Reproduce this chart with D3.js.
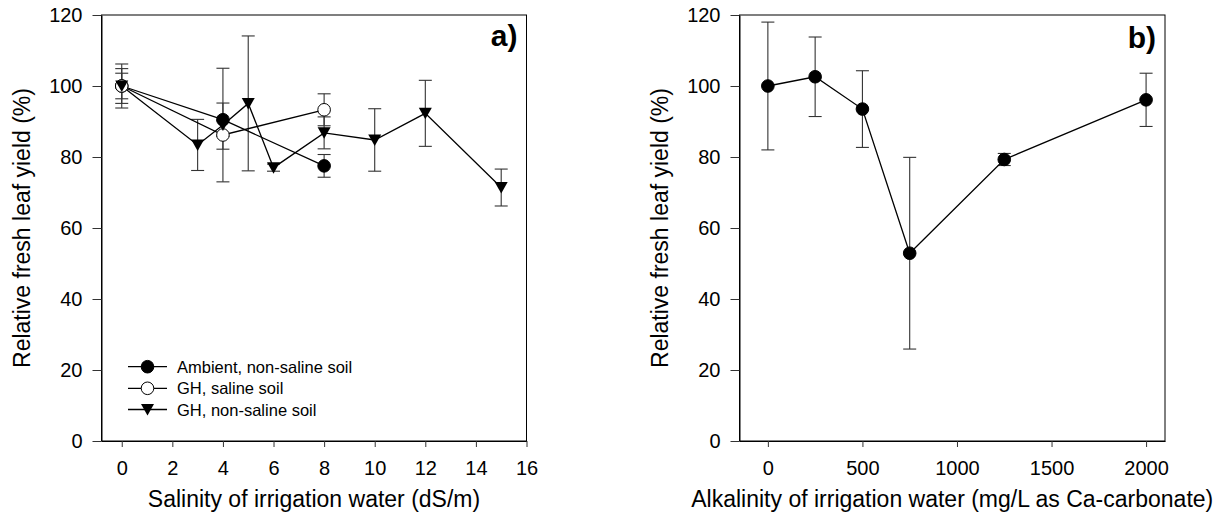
<!DOCTYPE html>
<html>
<head>
<meta charset="utf-8">
<script src="https://cdn.jsdelivr.net/npm/d3@7"></script>
<style>
  html, body { margin: 0; padding: 0; background: #fff; }
  svg { display: block; font-family: "Liberation Sans", Arial, sans-serif; }
</style>
</head>
<body>
<svg id="chart" width="1225" height="521"></svg>
<script>
// ---------- Data ----------
const salinityTicks = [0, 2, 4, 6, 8, 10, 12, 14, 16];
const alkalinityTicks = [0, 500, 1000, 1500, 2000];
const yTicks = [0, 20, 40, 60, 80, 100, 120];

const ambientX = [0, 4, 8];
const ambientY = [100, 90.5, 77.5];
const ambientErr = [3.6, 4.7, 3.2];

const ghSalineX = [0, 4, 8];
const ghSalineY = [100, 86.2, 93.3];
const ghSalineErr = [6.2, 4, 4.5];

const ghNonSalineX = [0, 3, 4, 5, 6, 8, 10, 12, 15];
const ghNonSalineY = [100, 83.4, 89, 95.1, 77, 86.8, 84.8, 92.3, 71.4];
const ghNonSalineErr = [4.9, 7.2, 16, 19, 1, 4.5, 8.8, 9.3, 5.2];

const alkX = [0, 250, 500, 750, 1250, 2000];
const alkY = [100, 102.6, 93.5, 52.9, 79.3, 96.1];
const alkErr = [18, 11.2, 10.8, 27, 1.7, 7.5];

const seriesLabels = ["Ambient, non-saline soil", "GH, saline soil", "GH, non-saline soil"];

// ---------- Layout ----------
const svg = d3.select("#chart");
const plotTop = 15, plotBottom = 441;
const tickFont = 20, titleFont = 23, legendFont = 16.5;

const ya = d3.scaleLinear().domain([0, 120]).range([plotBottom, plotTop]);
const xa = d3.scaleLinear().domain([-0.8, 16]).range([101.5, 526.5]);
const xb = d3.scaleLinear().domain([-150, 2100]).range([739.5, 1165]);

const triPath = "M-6.5,-5.5L6.5,-5.5L0,6Z";

function drawPanel(xs, xTicks, xTitle, label, labelY) {
  const [x0, x1] = xs.range();
  const g = svg.append("g");
  g.append("rect").attr("x", x0).attr("y", plotTop).attr("width", x1 - x0).attr("height", plotBottom - plotTop)
    .attr("fill", "none").attr("stroke", "#000").attr("stroke-width", 1);
  const xAxis = g.append("g").attr("transform", `translate(0,${plotBottom})`)
    .call(d3.axisBottom(xs).tickValues(xTicks).tickSizeInner(6).tickSizeOuter(0).tickPadding(14)
      .tickFormat(d3.format("d")));
  const yAxis = g.append("g").attr("transform", `translate(${x0},0)`)
    .call(d3.axisLeft(ya).tickValues(yTicks).tickSizeInner(9).tickSizeOuter(0).tickPadding(10));
  [xAxis, yAxis].forEach(a => {
    a.selectAll("text").attr("font-size", tickFont).attr("fill", "#000")
      .attr("font-family", '"Liberation Sans", Arial, sans-serif');
    a.selectAll("line").attr("stroke", "#333");
    a.select(".domain").attr("stroke", "#000");
  });
  g.append("text").attr("x", (x0 + x1) / 2).attr("y", 507).attr("text-anchor", "middle")
    .attr("font-size", titleFont).text(xTitle);
  g.append("text").attr("transform", `translate(${x0 - 72},${(plotTop + plotBottom) / 2}) rotate(-90)`)
    .attr("text-anchor", "middle").attr("font-size", titleFont).text("Relative fresh leaf yield (%)");
  g.append("text").attr("x", x1 - 9).attr("y", labelY).attr("text-anchor", "end")
    .attr("font-size", 30).attr("font-weight", "bold").text(label);
  return g;
}

function drawSeries(g, xs, X, Y, E) {
  const pts = X.map((x, i) => ({ x, y: Y[i], e: E[i] }));
  const eb = g.append("g").attr("stroke", "#333").attr("stroke-width", 1.1);
  pts.forEach(p => {
    const cx = xs(p.x);
    eb.append("line").attr("x1", cx).attr("x2", cx).attr("y1", ya(p.y - p.e)).attr("y2", ya(p.y + p.e));
    [p.y - p.e, p.y + p.e].forEach(v => {
      eb.append("line").attr("x1", cx - 6.5).attr("x2", cx + 6.5).attr("y1", ya(v)).attr("y2", ya(v));
    });
  });
  return pts;
}

function drawLine(g, xs, pts) {
  g.append("path").datum(pts)
    .attr("d", d3.line().x(d => xs(d.x)).y(d => ya(d.y)))
    .attr("fill", "none").attr("stroke", "#000").attr("stroke-width", 1.3);
}

function drawMarker(g, cx, cy, kind) {
  if (kind === "tri") {
    g.append("path").attr("d", triPath).attr("transform", `translate(${cx},${cy})`).attr("fill", "#000");
  } else {
    g.append("circle").attr("cx", cx).attr("cy", cy).attr("r", 6.3)
      .attr("fill", kind === "open" ? "#fff" : "#000").attr("stroke", "#000").attr("stroke-width", 1);
  }
}

function drawMarkers(g, xs, pts, kind) {
  pts.forEach(p => drawMarker(g, xs(p.x), ya(p.y), kind));
}

// ---------- Panel a ----------
const ga = drawPanel(xa, salinityTicks, "Salinity of irrigation water (dS/m)", "a)", 46);
const pA = drawSeries(ga, xa, ambientX, ambientY, ambientErr);
const pS = drawSeries(ga, xa, ghSalineX, ghSalineY, ghSalineErr);
const pN = drawSeries(ga, xa, ghNonSalineX, ghNonSalineY, ghNonSalineErr);
drawLine(ga, xa, pA); drawLine(ga, xa, pS); drawLine(ga, xa, pN);
drawMarkers(ga, xa, pA, "filled");
drawMarkers(ga, xa, pS, "open");
drawMarkers(ga, xa, pN, "tri");

const kinds = ["filled", "open", "tri"];
const legY = [366.7, 388.3, 409.5];
seriesLabels.forEach((t, i) => {
  const y = legY[i];
  ga.append("line").attr("x1", 128).attr("x2", 167).attr("y1", y).attr("y2", y)
    .attr("stroke", "#000").attr("stroke-width", 1.3);
  drawMarker(ga, 147.5, y, kinds[i]);
  ga.append("text").attr("x", 177).attr("y", y + 6).attr("font-size", legendFont).text(t);
});

// ---------- Panel b ----------
const gb = drawPanel(xb, alkalinityTicks, "Alkalinity of irrigation water (mg/L as Ca-carbonate)", "b)", 48);
const pB = drawSeries(gb, xb, alkX, alkY, alkErr);
drawLine(gb, xb, pB);
drawMarkers(gb, xb, pB, "filled");
</script>
</body>
</html>
